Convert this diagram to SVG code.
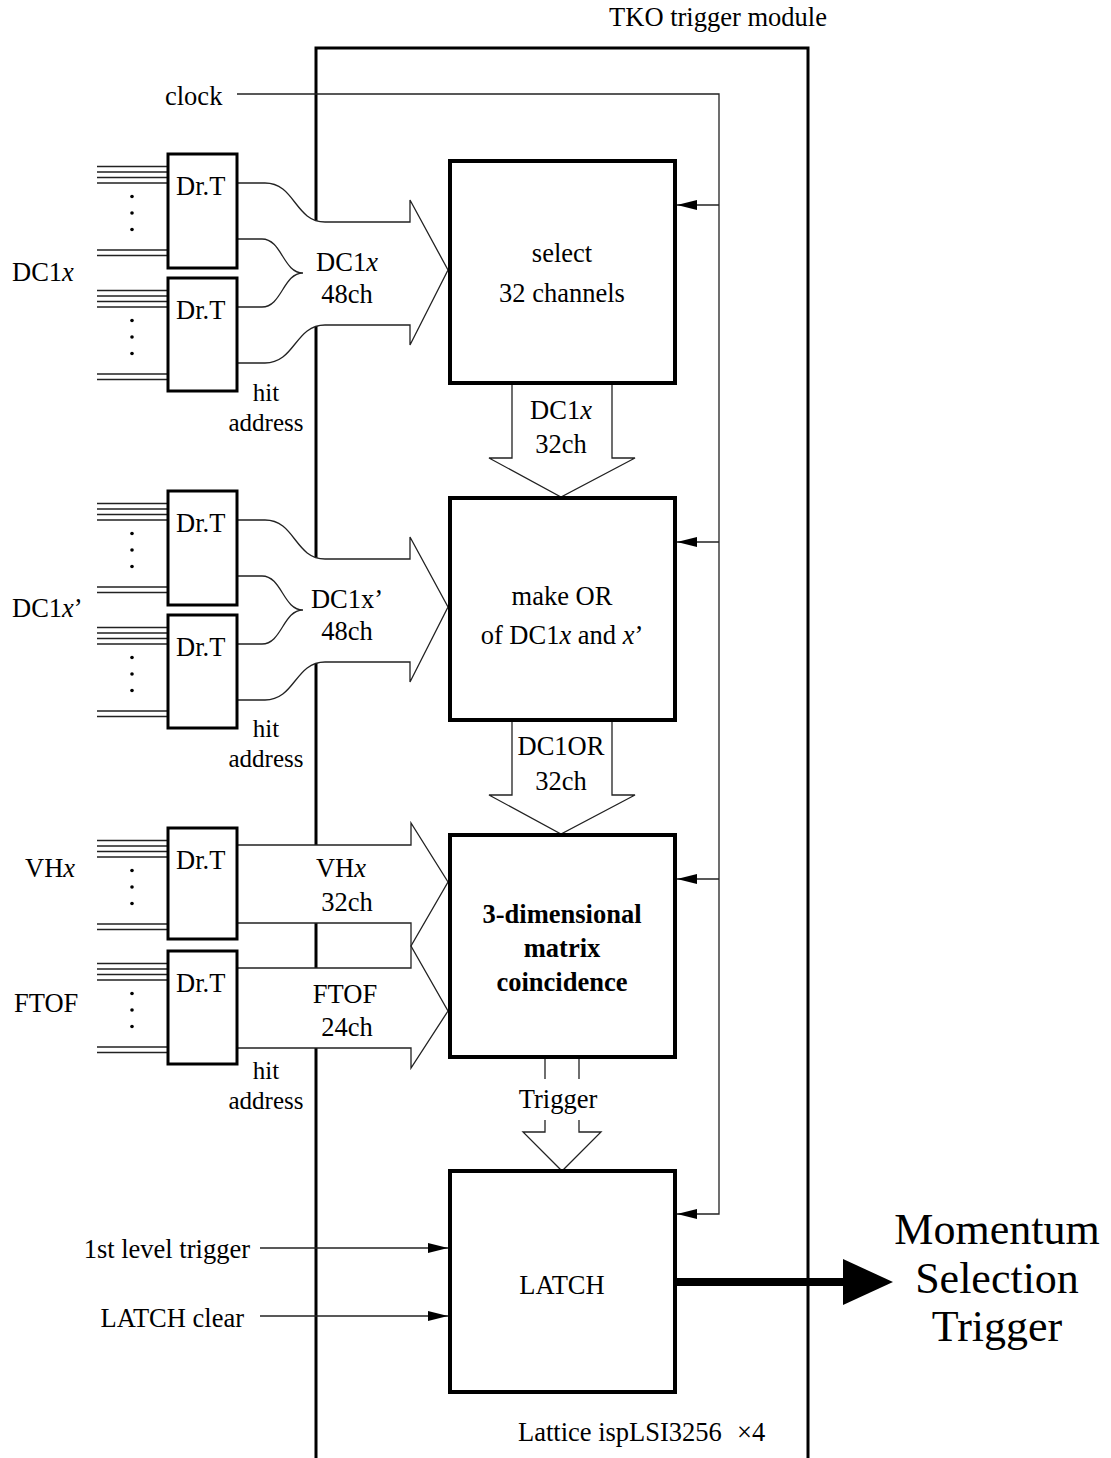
<svg xmlns="http://www.w3.org/2000/svg" width="1111" height="1458" viewBox="0 0 1111 1458">
<defs>
<marker id="ah" viewBox="0 0 20 10" refX="20" refY="5" markerWidth="20" markerHeight="10" markerUnits="userSpaceOnUse" orient="auto"><path d="M0,0 L20,5 L0,10 Z" fill="#000"/></marker>
<style>
.t{font-family:"Liberation Serif","Times New Roman",serif;font-size:26.5px;fill:#000}
.c{text-anchor:middle}
.e{text-anchor:end}
.i{font-style:italic}
.b{font-weight:bold}
.h{font-size:25px}
.box{fill:#fff;stroke:#000;stroke-width:4}
.drt{fill:#fff;stroke:#000;stroke-width:3}
.ln{fill:none;stroke:#222;stroke-width:1.3}
.band{fill:#fff;stroke:none}
.mod{fill:none;stroke:#000;stroke-width:3}
.dot{fill:#000}
</style>
</defs>
<rect width="1111" height="1458" fill="#fff"/>

<g id="module">
<path class="mod" d="M316,1458 V48 H808 V1458"/>
<text class="t c" x="718" y="26">TKO trigger module</text>
<text class="t" x="518" y="1441">Lattice ispLSI3256</text>
<text class="t" x="737" y="1441">×4</text>
</g>

<g id="connectors">
<path class="ln" d="M237,94 H719 V1214 H677" marker-end="url(#ah)"/>
<path class="ln" d="M719,205 H677" marker-end="url(#ah)"/>
<path class="ln" d="M719,542 H677" marker-end="url(#ah)"/>
<path class="ln" d="M719,879 H677" marker-end="url(#ah)"/>
<path class="ln" d="M260,1248 H448" marker-end="url(#ah)"/>
<path class="ln" d="M260,1316 H448" marker-end="url(#ah)"/>
<g id="band-dc1x">
<path class="band" d="M237,183 H265 C295,183 295,222 325,222 H410 V200 L448,270 L410,345 V325 H325 C295,325 295,363 265,363 H237 V307 H262 C282,307 283,273 303,273 C283,273 282,239 262,239 H237 Z"/>
<path class="ln" d="M237,183 H265 C295,183 295,222 325,222 H410 V200 L448,270 L410,345 V325 H325 C295,325 295,363 265,363 H237"/>
<path class="ln" d="M237,239 H262 C282,239 283,273 303,273 C283,273 282,307 262,307 H237"/>
</g>
<g id="band-dc1xp" transform="translate(0,337)">
<path class="band" d="M237,183 H265 C295,183 295,222 325,222 H410 V200 L448,270 L410,345 V325 H325 C295,325 295,363 265,363 H237 V307 H262 C282,307 283,273 303,273 C283,273 282,239 262,239 H237 Z"/>
<path class="ln" d="M237,183 H265 C295,183 295,222 325,222 H410 V200 L448,270 L410,345 V325 H325 C295,325 295,363 265,363 H237"/>
<path class="ln" d="M237,239 H262 C282,239 283,273 303,273 C283,273 282,307 262,307 H237"/>
</g>
<g id="band-vh-ftof">
<path class="band" d="M237,845 H411 V823 L448,882 L411,946 V923 H237 Z"/>
<path class="band" d="M237,968 H411 V946 L448,1011 L411,1068 V1048 H237 Z"/>
<path class="ln" d="M237,845 H411 V823 L448,882 L411,946 L448,1011 L411,1068 V1048 H237"/>
<path class="ln" d="M237,923 H411 V968 H237"/>
</g>
<path class="band" d="M512,383 V458 H489 L561,497 L635,458 H612 V383 Z"/>
<path class="ln" d="M512,383 V458 H489 L561,497 L635,458 H612 V383"/>
<path class="band" d="M512,720 V795 H489 L561,834 L635,795 H612 V720 Z"/>
<path class="ln" d="M512,720 V795 H489 L561,834 L635,795 H612 V720"/>
<path class="ln" d="M545,1057 V1079 M579,1057 V1079"/>
<path class="ln" d="M545,1120 V1132 H523 L562,1171 L601,1132 H579 V1120"/>
<path d="M677,1282 H846" stroke="#000" stroke-width="8" fill="none"/>
<path d="M843,1259 L893,1282 L843,1305 Z" fill="#000"/>
</g>

<g id="labels">
<text class="t" x="165" y="105">clock</text>
<text class="t e" x="250" y="1258">1st level trigger</text>
<text class="t e" x="244" y="1327">LATCH clear</text>
<text class="t" x="12" y="281">DC1<tspan class="i">x</tspan></text>
<text class="t" x="12" y="617">DC1<tspan class="i">x</tspan>’</text>
<text class="t" x="25" y="877">VH<tspan class="i">x</tspan></text>
<text class="t" x="14" y="1012">FTOF</text>
<text class="t c" x="347" y="271">DC1<tspan class="i">x</tspan></text>
<text class="t c" x="347" y="303">48ch</text>
<text class="t c" x="347" y="608">DC1x’</text>
<text class="t c" x="347" y="640">48ch</text>
<text class="t c" x="341" y="877">VH<tspan class="i">x</tspan></text>
<text class="t c" x="347" y="911">32ch</text>
<text class="t c" x="345" y="1003">FTOF</text>
<text class="t c" x="347" y="1036">24ch</text>
<text class="t c h" x="266" y="401">hit</text>
<text class="t c h" x="266" y="431">address</text>
<text class="t c h" x="266" y="737">hit</text>
<text class="t c h" x="266" y="767">address</text>
<text class="t c h" x="266" y="1079">hit</text>
<text class="t c h" x="266" y="1109">address</text>
<text class="t c" x="561" y="419">DC1<tspan class="i">x</tspan></text>
<text class="t c" x="561" y="453">32ch</text>
<text class="t c" x="561" y="755">DC1OR</text>
<text class="t c" x="561" y="790">32ch</text>
<text class="t c" x="558" y="1108">Trigger</text>
<text class="t c" x="997" y="1244" style="font-size:44px">Momentum</text>
<text class="t c" x="997" y="1293" style="font-size:44px">Selection</text>
<text class="t c" x="997" y="1341" style="font-size:44px">Trigger</text>
</g>

<g id="drt1" transform="translate(0,154)">
<path class="ln" d="M97,12.5 H168 M97,18 H168 M97,23.5 H168 M97,29 H168 M97,96 H168 M97,101.5 H168"/>
<circle class="dot" cx="132" cy="42.5" r="1.8"/><circle class="dot" cx="132" cy="59" r="1.8"/><circle class="dot" cx="132" cy="75.5" r="1.8"/>
<rect class="drt" x="168" y="0" width="69" height="114"/>
<text class="t" x="176" y="41">Dr.T</text>
</g>
<g id="drt2" transform="translate(0,278)">
<path class="ln" d="M97,12.5 H168 M97,18 H168 M97,23.5 H168 M97,29 H168 M97,96 H168 M97,101.5 H168"/>
<circle class="dot" cx="132" cy="42.5" r="1.8"/><circle class="dot" cx="132" cy="59" r="1.8"/><circle class="dot" cx="132" cy="75.5" r="1.8"/>
<rect class="drt" x="168" y="0" width="69" height="113"/>
<text class="t" x="176" y="41">Dr.T</text>
</g>
<g id="drt3" transform="translate(0,491)">
<path class="ln" d="M97,12.5 H168 M97,18 H168 M97,23.5 H168 M97,29 H168 M97,96 H168 M97,101.5 H168"/>
<circle class="dot" cx="132" cy="42.5" r="1.8"/><circle class="dot" cx="132" cy="59" r="1.8"/><circle class="dot" cx="132" cy="75.5" r="1.8"/>
<rect class="drt" x="168" y="0" width="69" height="114"/>
<text class="t" x="176" y="41">Dr.T</text>
</g>
<g id="drt4" transform="translate(0,615)">
<path class="ln" d="M97,12.5 H168 M97,18 H168 M97,23.5 H168 M97,29 H168 M97,96 H168 M97,101.5 H168"/>
<circle class="dot" cx="132" cy="42.5" r="1.8"/><circle class="dot" cx="132" cy="59" r="1.8"/><circle class="dot" cx="132" cy="75.5" r="1.8"/>
<rect class="drt" x="168" y="0" width="69" height="113"/>
<text class="t" x="176" y="41">Dr.T</text>
</g>
<g id="drt5" transform="translate(0,828)">
<path class="ln" d="M97,12.5 H168 M97,18 H168 M97,23.5 H168 M97,29 H168 M97,96 H168 M97,101.5 H168"/>
<circle class="dot" cx="132" cy="42.5" r="1.8"/><circle class="dot" cx="132" cy="59" r="1.8"/><circle class="dot" cx="132" cy="75.5" r="1.8"/>
<rect class="drt" x="168" y="0" width="69" height="111"/>
<text class="t" x="176" y="41">Dr.T</text>
</g>
<g id="drt6" transform="translate(0,951)">
<path class="ln" d="M97,12.5 H168 M97,18 H168 M97,23.5 H168 M97,29 H168 M97,96 H168 M97,101.5 H168"/>
<circle class="dot" cx="132" cy="42.5" r="1.8"/><circle class="dot" cx="132" cy="59" r="1.8"/><circle class="dot" cx="132" cy="75.5" r="1.8"/>
<rect class="drt" x="168" y="0" width="69" height="113"/>
<text class="t" x="176" y="41">Dr.T</text>
</g>

<g id="select">
<rect class="box" x="450" y="161" width="225" height="222"/>
<text class="t c" x="562" y="262">select</text>
<text class="t c" x="562" y="302">32 channels</text>
</g>
<g id="makeor">
<rect class="box" x="450" y="498" width="225" height="222"/>
<text class="t c" x="562" y="605">make OR</text>
<text class="t c" x="562" y="644">of DC1<tspan class="i">x</tspan> and <tspan class="i">x</tspan>’</text>
</g>
<g id="coincidence">
<rect class="box" x="450" y="835" width="225" height="222"/>
<text class="t c b" x="562" y="923">3-dimensional</text>
<text class="t c b" x="562" y="957">matrix</text>
<text class="t c b" x="562" y="991">coincidence</text>
</g>
<g id="latch">
<rect class="box" x="450" y="1171" width="225" height="221"/>
<text class="t c" x="562" y="1294">LATCH</text>
</g>
</svg>
